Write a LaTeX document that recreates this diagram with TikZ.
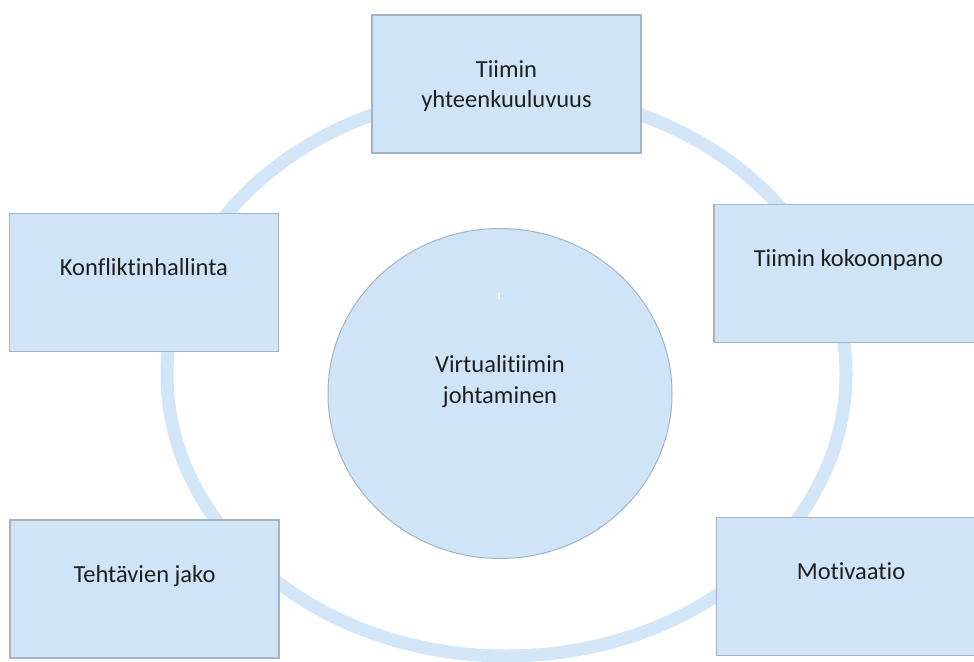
\documentclass[tikz,border=0pt]{standalone}
\usepackage{fontspec}
\setmainfont{Carlito}[Ligatures=NoCommon]
\usetikzlibrary{calc,shapes.geometric}

\definecolor{ringblue}{HTML}{D3E6F8}
\definecolor{boxfill}{HTML}{D0E4F7}
\definecolor{boxline}{HTML}{A2B4C6}
\definecolor{inktext}{HTML}{1E1E1E}

\tikzset{
  topicbox/.style={draw=boxline, line width=1.3pt, fill=boxfill,
    minimum width=269pt, minimum height=138pt, inner sep=0pt},
  hubdisc/.style={ellipse, draw=boxline, line width=1pt, fill=boxfill,
    minimum width=344pt, minimum height=330pt, inner sep=0pt},
  lbl/.style={inner sep=0pt, anchor=base, text=inktext,
    font=\fontsize{24.5}{30}\selectfont},
}

\begin{document}
\begin{tikzpicture}[x=1pt, y=-1pt]
  \useasboundingbox (0,0) rectangle (974,661);
  \clip (0,0) rectangle (974,661);
  \fill[white] (0,0) rectangle (974,661);

  % outer ring linking the topics
  \draw[ringblue, line width=13pt] (506.5,374) ellipse [x radius=339.5, y radius=282];

  % topic boxes
  \node[topicbox] (team)  at (506.5,84)  {};
  \node[topicbox] (confl) at (144,282.5) {};
  \node[topicbox] (comp)  at (848.5,273.5) {};
  \node[topicbox] (tasks) at (144.5,589) {};
  \node[topicbox] (motiv) at (851,586.5) {};

  % central hub
  \node[hubdisc] (hub) at (500,393.5) {};
  \coordinate (tickA) at ($(hub.center)+(-1,-100.5)$);
  \coordinate (tickB) at ($(hub.center)+(-1,-94.5)$);
  \draw[white, line width=1.6pt] (tickA) -- (tickB);

  % labels
  \node[lbl] (team1) at ($(team.north)+(0,63)$) {Tiimin};
  \node[lbl] (team2) at ($(team.north)+(0,93)$) {yhteenkuuluvuus};
  \node[lbl] (conflt) at ($(confl.north)+(0,63)$) {Konfliktinhallinta};
  \node[lbl] (compt) at ($(comp.north)+(0,63)$) {Tiimin kokoonpano};
  \node[lbl] (taskt) at ($(tasks.north)+(0,63)$) {Tehtävien jako};
  \node[lbl] (motivt) at ($(motiv.north)+(0,63)$) {Motivaatio};
  \node[lbl] (hub1) at ($(hub.center)+(0,-21.5)$) {Virtualitiimin};
  \node[lbl] (hub2) at ($(hub.center)+(0,9.5)$) {johtaminen};
\end{tikzpicture}
\end{document}
